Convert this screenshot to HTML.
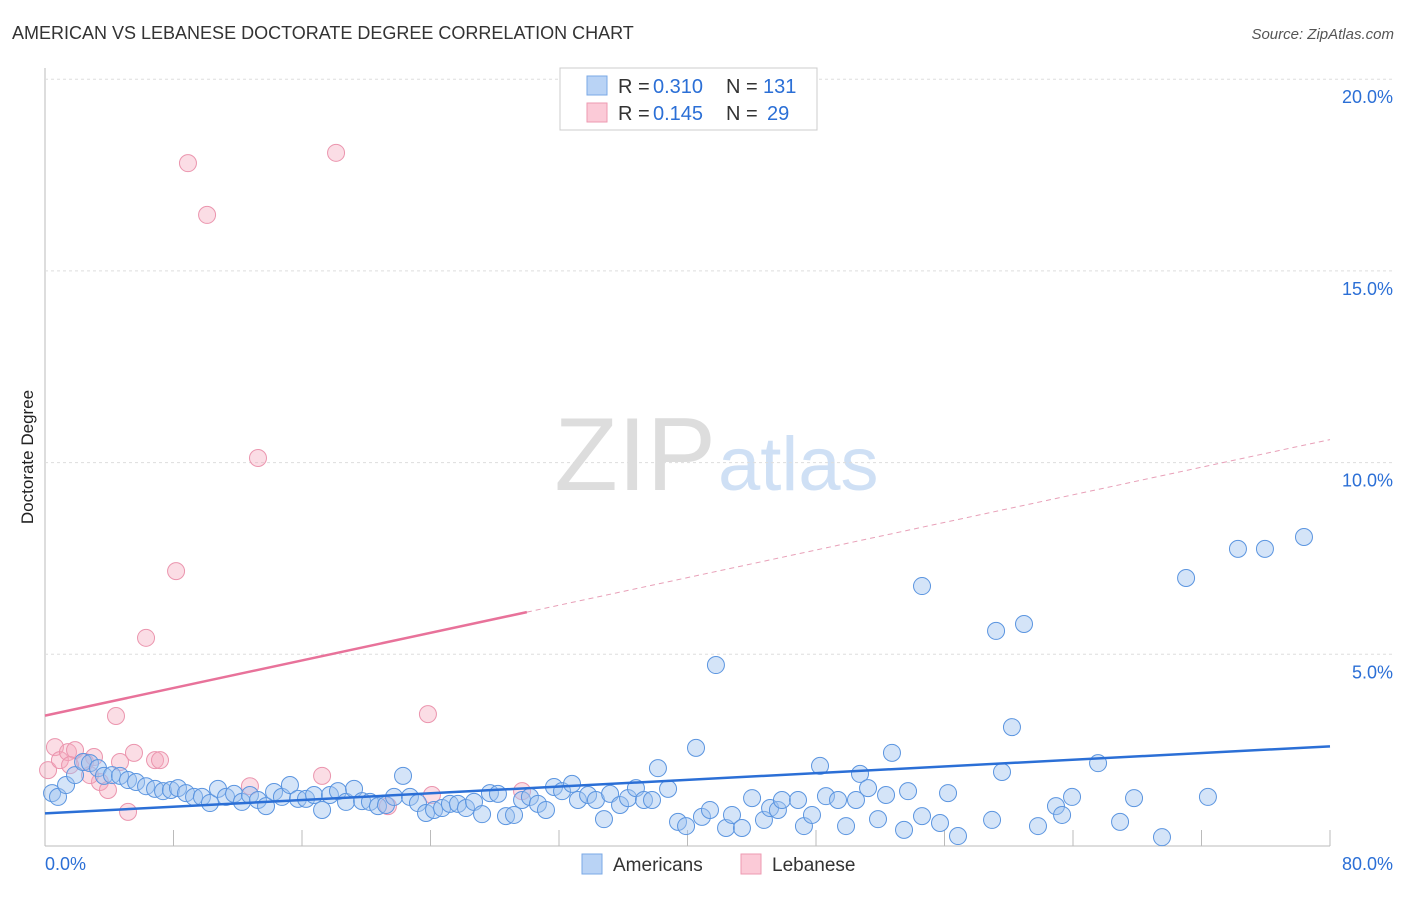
<!DOCTYPE html>
<html><head><meta charset="utf-8"><style>
body{margin:0;background:#fff;font-family:"Liberation Sans",sans-serif;}
svg text{font-family:"Liberation Sans",sans-serif;}
</style></head><body>
<svg id="c" width="1406" height="892">
<text x="12" y="39" font-size="18" fill="#333">AMERICAN VS LEBANESE DOCTORATE DEGREE CORRELATION CHART</text>
<text x="1394" y="39" font-size="15" fill="#555" font-style="italic" text-anchor="end">Source: ZipAtlas.com</text>
<text x="33" y="457" font-size="17" fill="#222" transform="rotate(-90 33 457)" text-anchor="middle">Doctorate Degree</text>
<text x="716" y="490" font-size="104" fill="#ddd" text-anchor="end" font-family="Liberation Serif">ZIP</text>
<text x="718" y="490" font-size="76" fill="#cfe0f5">atlas</text>
<g id="grid"></g><g id="pts"></g><g id="lines"></g>
<g>
<rect x="560" y="68" width="257" height="62" fill="#fff" stroke="#ccc"/>
<rect x="587" y="76" width="20" height="19" fill="#b9d3f5" stroke="#7aa8e6"/>
<text x="618" y="93" font-size="20" fill="#333">R =</text>
<text x="653" y="93" font-size="20" fill="#2b6fd6">0.310</text>
<text x="726" y="93" font-size="20" fill="#333">N =</text>
<text x="763" y="93" font-size="20" fill="#2b6fd6">131</text>
<rect x="587" y="103" width="20" height="19" fill="#fbcad7" stroke="#ee9ab2"/>
<text x="618" y="120" font-size="20" fill="#333">R =</text>
<text x="653" y="120" font-size="20" fill="#2b6fd6">0.145</text>
<text x="726" y="120" font-size="20" fill="#333">N =</text>
<text x="767" y="120" font-size="20" fill="#2b6fd6">29</text>
</g>
<g>
<rect x="582" y="854" width="20" height="20" fill="#b9d3f5" stroke="#7aa8e6"/>
<text x="613" y="871" font-size="19" fill="#333">Americans</text>
<rect x="741" y="854" width="20" height="20" fill="#fbcad7" stroke="#ee9ab2"/>
<text x="772" y="871" font-size="19" fill="#333">Lebanese</text>
</g>
</svg>
<script>
const yTicks=[5,10,15,20];
const xTickLabels=["0.0%","80.0%"];
const bluePx=[[52,793],[58,797],[66,785],[75,775],[83,762],[90,763],[98,768],[104,776],[112,775],[120,776],[128,780],[136,782],[146,786],[155,789],[163,791],[171,790],[178,788],[186,793],[194,797],[202,797],[210,803],[218,789],[226,797],[234,794],[242,802],[250,795],[258,800],[266,806],[274,792],[282,797],[290,785],[298,799],[306,799],[314,795],[322,810],[330,795],[338,791],[346,802],[354,789],[362,801],[370,802],[378,806],[386,805],[394,797],[403,776],[410,797],[418,803],[426,813],[434,810],[442,808],[450,804],[458,804],[466,808],[474,802],[482,814],[490,793],[498,794],[506,816],[514,815],[522,800],[530,797],[538,804],[546,810],[554,787],[562,791],[572,784],[578,800],[588,795],[596,800],[604,819],[610,794],[620,805],[628,798],[636,788],[644,800],[652,800],[658,768],[668,789],[678,822],[686,826],[696,748],[702,817],[710,810],[716,665],[726,828],[732,815],[742,828],[752,798],[764,820],[770,808],[778,810],[782,800],[798,800],[804,826],[812,815],[820,766],[826,796],[838,800],[846,826],[856,800],[860,774],[868,788],[878,819],[886,795],[892,753],[904,830],[908,791],[922,816],[922,586],[940,823],[948,793],[958,836],[992,820],[996,631],[1002,772],[1012,727],[1024,624],[1038,826],[1056,806],[1062,815],[1072,797],[1098,763],[1120,822],[1134,798],[1162,837],[1186,578],[1208,797],[1238,549],[1265,549],[1304,537]];
const pinkPx=[[48,770],[55,747],[60,760],[68,752],[75,750],[85,762],[94,757],[100,782],[108,790],[116,716],[120,762],[128,812],[134,753],[146,638],[155,760],[160,760],[176,571],[188,163],[207,215],[250,786],[258,458],[322,776],[336,153],[388,806],[428,714],[432,795],[522,791],[90,775],[70,765]];
const X0=45,X1=1330,Y0=846,PY=191.7/5;
const invX=p=>+((p-X0)/(X1-X0)*80).toFixed(2), invY=p=>+((Y0-p)/PY).toFixed(2);
const americansX=bluePx.map(p=>invX(p[0])), americansY=bluePx.map(p=>invY(p[1]));
const lebaneseX=pinkPx.map(p=>invX(p[0])), lebaneseY=pinkPx.map(p=>invY(p[1]));
const blueTrend=[0.85,2.6], pinkTrend=[3.4,10.6], pinkSolidEnd=30;
const sx=v=>X0+v/80*(X1-X0), sy=v=>Y0-v*PY;
const NS="http://www.w3.org/2000/svg";
function mk(t,a,parent){const e=document.createElementNS(NS,t);for(const k in a)e.setAttribute(k,a[k]);parent.appendChild(e);return e;}
const grid=document.getElementById('grid');
mk('line',{x1:45,y1:68,x2:45,y2:846,stroke:'#bbb'},grid);
mk('line',{x1:45,y1:846,x2:1330,y2:846,stroke:'#bbb'},grid);
for(const t of yTicks){
 const g=mk('line',{x1:45,y1:sy(t),x2:1395,y2:sy(t),stroke:'#ddd','stroke-dasharray':'3,3'},grid);
 
 
 const tx=mk('text',{x:1393,y:sy(t)+24,'font-size':18,fill:'#2b6fd6','text-anchor':'end'},grid);
 tx.textContent=t.toFixed(1)+'%';
 
 
}
for(let i=1;i<=10;i++){const x=45+i*128.5;mk('line',{x1:x,y1:830,x2:x,y2:846,stroke:'#bbb'},grid);}
const xl0=mk('text',{x:45,y:870,'font-size':18,fill:'#2b6fd6'},grid);xl0.textContent=xTickLabels[0];


const xl1=mk('text',{x:1393,y:870,'font-size':18,fill:'#2b6fd6','text-anchor':'end'},grid);xl1.textContent=xTickLabels[1];


const pts=document.getElementById('pts');
lebaneseX.forEach((v,i)=>{const c=mk('circle',{cx:sx(v),cy:sy(lebaneseY[i]),r:8.5,fill:'rgba(245,170,190,0.4)',stroke:'#eb95ae','stroke-width':1},pts);
 
 });
americansX.forEach((v,i)=>{const c=mk('circle',{cx:sx(v),cy:sy(americansY[i]),r:8.5,fill:'rgba(160,195,240,0.45)',stroke:'#5b95e0','stroke-width':1},pts);
 
 });
const L=document.getElementById('lines');
const bl=mk('line',{x1:sx(0),y1:sy(blueTrend[0]),x2:sx(80),y2:sy(blueTrend[1]),stroke:'#2b6fd6','stroke-width':2.5},L);


const pe=pinkTrend[0]+(pinkTrend[1]-pinkTrend[0])*pinkSolidEnd/80;
const pl=mk('line',{x1:sx(0),y1:sy(pinkTrend[0]),x2:sx(pinkSolidEnd),y2:sy(pe),stroke:'#e8729a','stroke-width':2.5},L);


const pd=mk('line',{x1:sx(pinkSolidEnd),y1:sy(pe),x2:sx(80),y2:sy(pinkTrend[1]),stroke:'#e8a0b8','stroke-width':1,'stroke-dasharray':'5,4'},L);


</script>
</body></html>
